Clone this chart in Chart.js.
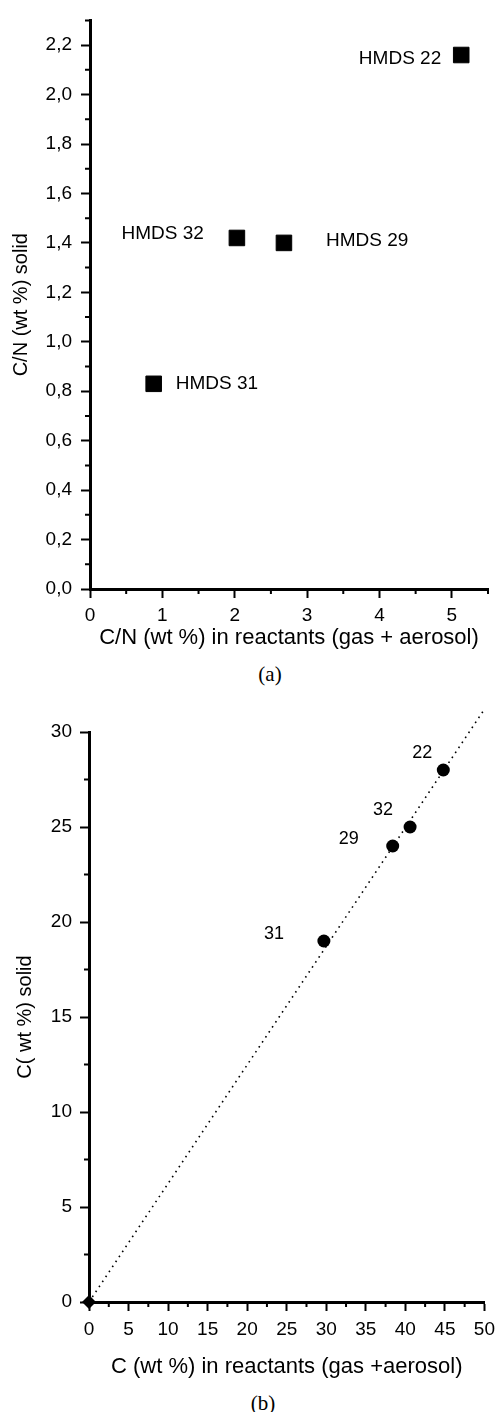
<!DOCTYPE html>
<html>
<head>
<meta charset="utf-8">
<script src="https://cdn.jsdelivr.net/npm/chart.js@4.4.1/dist/chart.umd.min.js"></script>
<style>
  body { margin: 0; background: #fff; width: 502px; height: 1412px; position: relative; overflow: hidden; }
  canvas { position: absolute; left: 0; }
  #chartA { top: 0; }
  #chartB { top: 690px; }
  .cap { position: absolute; font-family: "Liberation Serif", serif; font-size: 21px; color: #000; transform: translate(-50%, -50%); }
</style>
</head>
<body>
<canvas id="chartA" width="502" height="660"></canvas>
<div class="cap" style="left:270px; top:674px;">(a)</div>
<canvas id="chartB" width="502" height="700"></canvas>
<div class="cap" style="left:263px; top:1403px;">(b)</div>
<script>
// (a) C/N ratio, reactants vs solid
const cnReactants = [5.13, 2.03, 2.68, 0.88];
const cnSolid = [2.16, 1.42, 1.40, 0.83];
const hmdsLabels = ['HMDS 22', 'HMDS 32', 'HMDS 29', 'HMDS 31'];
const cnXTicks = [0, 1, 2, 3, 4, 5];
const cnXMinor = [0.5, 1.5, 2.5, 3.5, 4.5, 5.5];
const cnYTicks = [0, 0.2, 0.4, 0.6, 0.8, 1.0, 1.2, 1.4, 1.6, 1.8, 2.0, 2.2];
const cnYMinor = [0.1, 0.3, 0.5, 0.7, 0.9, 1.1, 1.3, 1.5, 1.7, 1.9, 2.1, 2.3];

// (b) carbon content, reactants vs solid
const cReactants = [44.8, 40.6, 38.4, 29.7];
const cSolid = [28.0, 25.0, 24.0, 19.0];
const runLabels = ['22', '32', '29', '31'];
const fitX = [0, 50];
const fitY = [0, 31.2];
const originX = [0];
const originY = [0];
const cXTicks = [0, 5, 10, 15, 20, 25, 30, 35, 40, 45, 50];
const cXMinor = [2.5, 7.5, 12.5, 17.5, 22.5, 27.5, 32.5, 37.5, 42.5, 47.5];
const cYTicks = [0, 5, 10, 15, 20, 25, 30];
const cYMinor = [2.5, 7.5, 12.5, 17.5, 22.5, 27.5];

Chart.defaults.font.family = '"Liberation Sans", Arial, sans-serif';
Chart.defaults.color = '#000';

// short ticks between the labelled ones
const minorTicks = {
  id: 'minorTicks',
  afterDraw(chart, args, opts) {
    const ctx = chart.ctx;
    const xs = chart.scales.x, ys = chart.scales.y;
    ctx.save();
    ctx.strokeStyle = '#000';
    ctx.lineWidth = 2;
    ctx.beginPath();
    opts.x.forEach(v => {
      const px = xs.getPixelForValue(v);
      ctx.moveTo(px, xs.top);
      ctx.lineTo(px, xs.top + 5);
    });
    opts.y.forEach(v => {
      const py = ys.getPixelForValue(v);
      ctx.moveTo(ys.right, py);
      ctx.lineTo(ys.right - 5, py);
    });
    ctx.stroke();
    ctx.restore();
  }
};

// text next to each sample point
const pointLabels = {
  id: 'pointLabels',
  afterDatasetsDraw(chart, args, opts) {
    const ctx = chart.ctx;
    const meta = chart.getDatasetMeta(opts.dataset);
    ctx.save();
    ctx.fillStyle = '#000';
    ctx.font = opts.size + 'px "Liberation Sans", Arial, sans-serif';
    ctx.textBaseline = 'middle';
    meta.data.forEach((pt, i) => {
      const p = opts.place[i];
      ctx.textAlign = p.align;
      ctx.fillText(opts.texts[i], pt.x + p.dx, pt.y + p.dy);
    });
    ctx.restore();
  }
};

function axis(min, max, ticks, width, pad, title, titleSize, titlePad, fmt) {
  return {
    type: 'linear',
    min: min,
    max: max,
    afterBuildTicks: s => { s.ticks = ticks.map(v => ({ value: v })); },
    afterFit: s => {
      if (s.isHorizontal()) s.height = width; else s.width = width;
    },
    grid: { drawOnChartArea: false, drawTicks: true, tickLength: 9, tickWidth: 2, tickColor: '#000' },
    border: { display: true, color: '#000', width: 3 },
    ticks: { padding: pad, font: { size: 19 }, color: '#000', callback: fmt },
    title: { display: true, text: title, font: { size: titleSize }, color: '#000', padding: titlePad }
  };
}

const commaFmt = v => v.toFixed(1).replace('.', ',');
const plainFmt = v => String(v);

new Chart(document.getElementById('chartA'), {
  type: 'scatter',
  data: {
    datasets: [{
      data: cnReactants.map((x, i) => ({ x: x, y: cnSolid[i] })),
      pointStyle: 'rect',
      pointRadius: 11,
      backgroundColor: '#000',
      borderColor: '#000',
      borderWidth: 1,
      clip: false
    }]
  },
  options: {
    responsive: false,
    animation: false,
    layout: { padding: { top: 13, right: 14, left: 0, bottom: 0 } },
    plugins: {
      legend: { display: false },
      tooltip: { enabled: false },
      minorTicks: { x: cnXMinor, y: cnYMinor },
      pointLabels: {
        dataset: 0, size: 19, texts: hmdsLabels,
        place: [
          { align: 'right', dx: -20, dy: 4 },
          { align: 'right', dx: -33, dy: -4 },
          { align: 'left', dx: 42, dy: -2 },
          { align: 'left', dx: 22, dy: 0 }
        ]
      }
    },
    scales: {
      x: axis(0, 5.5, cnXTicks, 71, 6, 'C/N (wt %) in reactants (gas + aerosol)', 22, { top: 0, bottom: 9 }, plainFmt),
      y: axis(0, 2.3, cnYTicks, 90, 9, 'C/N (wt %) solid', 20, { top: 9, bottom: 0 }, commaFmt)
    }
  },
  plugins: [minorTicks, pointLabels]
});

new Chart(document.getElementById('chartB'), {
  type: 'scatter',
  data: {
    datasets: [{
      data: cReactants.map((x, i) => ({ x: x, y: cSolid[i] })),
      pointStyle: 'circle',
      pointRadius: 6.5,
      backgroundColor: '#000',
      borderColor: '#000',
      borderWidth: 0,
      clip: false
    }, {
      data: fitX.map((x, i) => ({ x: x, y: fitY[i] })),
      showLine: true,
      pointRadius: 0,
      borderColor: '#000',
      borderWidth: 1.6,
      borderDash: [1.6, 4.4],
      clip: false
    }, {
      data: originX.map((x, i) => ({ x: x, y: originY[i] })),
      pointStyle: 'rectRot',
      pointRadius: 7,
      backgroundColor: '#000',
      borderColor: '#000',
      borderWidth: 0,
      clip: false
    }]
  },
  options: {
    responsive: false,
    animation: false,
    layout: { padding: { top: 42, right: 14, left: 0, bottom: 0 } },
    plugins: {
      legend: { display: false },
      tooltip: { enabled: false },
      minorTicks: { x: cXMinor, y: cYMinor },
      pointLabels: {
        dataset: 0, size: 18, texts: runLabels,
        place: [
          { align: 'center', dx: -21, dy: -17 },
          { align: 'center', dx: -27, dy: -17 },
          { align: 'center', dx: -44, dy: -7 },
          { align: 'center', dx: -50, dy: -7 }
        ]
      }
    },
    scales: {
      x: axis(0, 50, cXTicks, 88, 7, 'C (wt %) in reactants (gas +aerosol)', 22, { top: 0, bottom: 10 }, plainFmt),
      y: axis(0, 30, cYTicks, 89, 8, 'C( wt %) solid', 20, { top: 13, bottom: 0 }, plainFmt)
    }
  },
  plugins: [minorTicks, pointLabels]
});
</script>
</body>
</html>
